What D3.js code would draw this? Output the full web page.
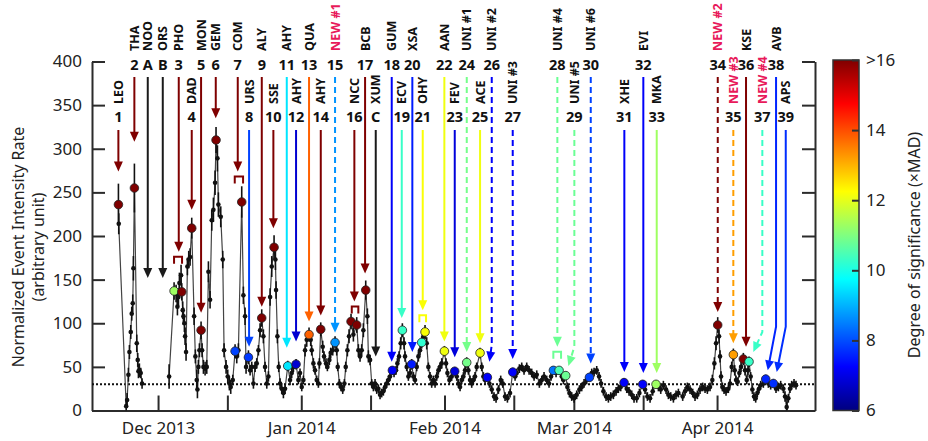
<!DOCTYPE html>
<html>
<head>
<meta charset="utf-8">
<script src="https://cdn.jsdelivr.net/npm/d3@7"></script>
<style>
body { margin: 0; background: #fff; }
svg { display: block; font-family: "Noto Sans", "Open Sans", sans-serif; }
</style>
</head>
<body>
<svg id="chart" width="928" height="441"></svg>
<script>
// time is counted in days from 1 Dec 2013 (UTC)
var dayStart = -14.3, dayEnd = 142.2;

var monthTicks = ["2013-12-01", "2014-01-01", "2014-02-01", "2014-03-01", "2014-04-01"];
var monthLabels = ["Dec 2013", "Jan 2014", "Feb 2014", "Mar 2014", "Apr 2014"];
var midTicks = ["2013-12-16", "2014-01-16", "2014-02-16", "2014-03-16", "2014-04-16"];
var rateTicks = [0, 50, 100, 150, 200, 250, 300, 350, 400];
var sigTicks = [6, 8, 10, 12, 14, 16];
var sigLabels = ["6", "8", "10", "12", "14", ">16"];
var baselineRate = 30;

// [day, rate, error] ; null rate = data gap
var series = [
  [-8.58,236,24],[-8.51,214,12],[-6.9,5,6],[-6.7,12,8],[-6.42,41,8],[-6.20,67,8],[-5.91,90,8],
  [-5.70,111,8],[-5.48,123,10],[-5.34,163,14],[-5.12,255,28],[-4.61,77,10],[-4.40,58,8],
  [-4.25,45,8],[-4.04,46,8],[-3.75,43,6],[-3.46,31,6],[-1.0,null,0],
  [2.39,39,14],[3.47,137,10],[3.90,134,10],[4.19,119,10],[4.41,130,10],[4.62,146,12],
  [4.98,155,12],[5.13,136,10],[5.34,115,10],[5.49,108,10],[5.70,100,10],[5.85,85,10],
  [6.06,67,10],[6.35,165,10],[6.64,173,10],[6.93,176,10],[7.29,209,12],[7.80,108,10],
  [8.08,62,8],[8.37,35,12],[8.52,24,10],[8.73,50,8],[8.95,69,8],[9.31,92,10],[9.53,69,8],
  [9.82,50,8],[10.18,48,8],[10.54,50,8],[10.90,159,12],[11.26,127,10],[11.62,218,12],
  [11.98,230,14],[12.34,261,14],[12.55,310,15],[12.85,289,15],[13.06,236,14],[13.57,222,12],
  [14.00,173,10],[14.29,69,8],[14.72,50,8],[15.08,39,8],[15.44,31,8],[15.73,27,8],
  [16.17,35,6],[16.67,68,8],[17.03,62,8],[17.39,69,8],[18.11,239,18],[18.47,132,10],
  [18.83,108,10],[19.05,50,8],[19.56,61,8],[19.92,46,6],[20.28,50,6],[20.64,31,6],
  [21.00,50,6],[21.36,54,6],[21.72,69,6],[22.08,92,8],[22.44,106,10],[22.80,85,8],
  [23.16,50,6],[23.53,31,6],[23.89,39,6],[24.25,130,10],[24.61,165,12],[25.11,187,14],
  [25.40,173,12],[25.54,138,10],[25.83,85,8],[26.12,50,6],[26.41,31,6],[26.77,25,6],
  [27.13,20,6],[27.49,25,6],[28.07,51,6],[28.57,35,6],[28.93,43,6],[29.30,50,6],[29.87,53,6],
  [30.37,35,5],[30.73,43,5],[31.10,27,5],[31.46,35,5],[31.82,69,7],[32.18,81,8],[32.68,87,8],
  [33.04,81,7],[33.26,69,6],[33.62,54,6],[33.98,46,5],[34.34,35,5],[34.70,31,5],[34.92,54,6],
  [35.21,93,8],[35.64,73,7],[35.93,62,6],[36.36,54,6],[36.65,50,5],[37.08,58,6],[37.37,66,6],
  [37.81,69,6],[38.31,78,7],[38.67,69,6],[38.89,50,5],[39.25,31,5],[39.61,27,5],[39.97,24,5],
  [40.33,31,5],[40.62,50,6],[40.98,69,7],[41.34,85,8],[41.77,102,9],[42.28,87,8],[43.00,98,9],
  [43.36,69,7],[43.72,62,6],[44.08,69,7],[44.44,92,8],[44.95,138,11],[45.31,108,9],[45.53,62,7],
  [45.89,58,6],[46.25,31,5],[46.61,27,5],[46.97,31,5],[47.33,24,5],[47.69,25,5],[48.05,18,5],
  [48.41,20,5],[48.77,22,5],[49.13,27,5],[49.49,31,5],[49.85,35,5],[50.21,39,5],[50.72,46,5],
  [51.08,43,5],[51.51,46,5],[51.80,54,6],[52.16,62,6],[52.52,77,7],[52.88,92,8],[53.25,77,7],
  [53.46,62,6],[53.82,50,5],[54.18,39,5],[54.54,43,5],[54.90,53,6],[55.27,39,5],[55.63,35,5],
  [55.99,50,5],[56.35,62,6],[56.71,69,6],[57.07,78,7],[57.43,85,7],[57.79,90,8],[58.15,77,7],
  [58.51,50,5],[58.87,39,5],[59.23,31,5],[59.59,35,5],[59.96,31,5],[60.32,39,5],[60.68,46,5],
  [61.04,50,5],[61.40,54,6],[61.98,68,6],[62.34,54,6],[62.63,43,5],[63.06,35,5],[63.56,39,5],
  [64.21,45,5],[64.65,39,5],[65.01,31,5],[65.37,27,5],[65.73,35,5],[66.09,39,5],[66.45,46,5],
  [66.81,55,6],[67.17,46,5],[67.53,35,5],[67.89,31,5],[68.25,35,5],[68.61,39,5],[68.97,50,5],
  [69.70,66,6],[70.06,50,5],[70.42,39,5],[70.78,35,5],[71.28,38,5],
  [71.72,31,5],[72.23,24,5],[72.73,16,5],[73.16,14,5],[73.67,24,5],[74.17,35,5],[74.61,31,5],
  [75.11,16,5],[75.62,14,5],[76.19,20,5],[76.77,44,5],[77.28,39,5],[77.64,43,5],[78.21,48,5],
  [78.72,50,5],[79.22,46,5],[79.80,50,5],[80.31,46,5],[80.88,43,5],[81.39,39,5],[81.97,41,5],
  [82.54,31,5],[83.05,35,5],[83.55,39,5],[84.13,35,5],[84.63,31,5],[85.07,39,5],[85.57,46,5],
  [86.15,43,5],[86.80,46,5],[87.38,39,5],[87.74,35,5],[88.24,40,5],[88.60,27,5],[89.04,20,5],
  [89.54,16,5],[90.05,14,5],[90.62,18,5],[91.20,24,5],[91.71,27,5],[92.21,31,5],[92.79,35,5],
  [93.37,38,5],[93.87,43,5],[94.38,44,5],[94.95,46,5],[95.46,39,5],[95.89,31,5],[96.40,22,5],
  [96.97,16,5],[97.48,14,5],[97.98,16,5],[98.56,18,5],[99.14,22,5],[99.64,25,5],[100.15,27,5],
  [100.87,32,5],[101.45,25,5],[101.95,22,5],[102.53,18,5],[103.03,14,5],[103.61,14,5],
  [104.19,20,5],[104.91,30,5],[105.41,24,5],[105.92,16,5],[106.50,14,5],[107.07,22,5],
  [107.79,30,5],[108.30,27,5],[108.81,24,5],[109.38,29,5],[109.96,24,5],[110.46,18,5],
  [110.97,16,5],[111.55,14,5],[112.12,18,5],[112.63,20,5],
  [113.56,16,5],[114.07,22,5],[114.57,27,5],[115.15,24,5],[115.73,20,5],[116.23,16,5],
  [116.74,18,5],[117.31,24,5],[117.89,27,5],[118.40,25,5],[118.90,24,5],[119.48,27,5],
  [119.98,35,6],[120.42,54,7],[120.78,77,8],[121.14,98,9],[121.43,85,8],[121.64,62,7],
  [121.86,39,6],[122.15,27,5],[122.51,24,5],[122.94,22,5],[123.45,25,5],[123.81,31,5],
  [124.17,50,6],[124.53,64,7],[124.82,46,6],[125.11,35,5],[125.47,33,5],[125.83,43,5],
  [126.19,50,6],[126.69,59,7],[127.05,46,6],[127.42,35,5],[127.70,46,6],[127.92,56,6],
  [128.28,39,5],[128.64,24,5],[129.00,16,5],[129.36,14,5],[129.72,20,5],[130.08,25,5],
  [130.44,29,5],[131.02,31,5],[131.53,36,5],[132.10,31,5],[132.61,29,5],[133.19,31,5],
  [133.76,25,5],[134.27,27,5],[134.77,29,5],[135.35,25,5],[135.71,16,6],[136.07,4,6],
  [136.43,14,5],[136.79,25,5],[137.15,29,5],[137.66,31,5],[138.09,29,5]
];

// detected peaks: [day, rate, significance (x MAD)]
var peaks = [
  [-8.58,236,16],[-5.12,255,16],[3.47,137,11.3],[5.13,136,16],[7.29,209,16],[9.31,92,16],
  [12.55,310,16],[16.67,68,7.9],[18.11,239,16],[19.56,61,7.8],[22.44,106,16],[25.11,187,16],
  [28.07,51,9.5],[29.87,53,6.8],[32.68,87,13.8],[35.21,93,16],[38.31,78,8.7],[41.77,102,16],
  [43.00,98,16],[44.95,138,16],[50.72,46,7.2],[52.88,92,10.3],[54.90,53,7.5],[57.07,78,10.2],
  [57.79,90,12.2],[61.98,68,12.1],[64.21,45,6.9],[66.81,55,10.9],[69.70,66,12.1],[71.28,38,7.2],
  [76.77,44,7.2],[85.57,46,8.4],[86.80,46,10.5],[88.24,40,10.8],[93.37,38,7.9],[100.87,32,7.2],
  [104.91,30,7.2],[107.79,30,11.3],[121.14,98,16],[124.53,64,13.2],[126.69,59,16],
  [127.92,56,10.3],[131.53,36,7.6],[133.19,31,7.7]
];

// meteor shower annotations (tier = label row, tip = rate the arrow points at)
var showers = [
  {num:"1", name:"LEO", tier:2, day:-8.59, tip:274, sig:16},
  {num:"2", name:"THA", tier:1, day:-5.13, tip:308, sig:16},
  {num:"A", name:"NOO", tier:1, day:-2.23, tip:152, sig:null},
  {num:"B", name:"ORS", tier:1, day:1.02, tip:152, sig:null},
  {num:"3", name:"PHO", tier:1, day:4.48, tip:182, sig:16, span:[3.46,5.19]},
  {num:"4", name:"DAD", tier:2, day:7.29, tip:230, sig:16},
  {num:"5", name:"MON", tier:1, day:9.31, tip:112, sig:16},
  {num:"6", name:"GEM", tier:1, day:12.49, tip:335, sig:16},
  {num:"7", name:"COM", tier:1, day:17.25, tip:274, sig:16, span:[16.6,18.4]},
  {num:"8", name:"URS", tier:2, day:19.70, tip:73, sig:7.9},
  {num:"9", name:"ALY", tier:1, day:22.45, tip:119, sig:16},
  {num:"10", name:"SSE", tier:2, day:24.96, tip:209, sig:16},
  {num:"11", name:"AHY", tier:1, day:27.86, tip:72, sig:9.5},
  {num:"12", name:"AHY", tier:2, day:29.87, tip:79, sig:6.8},
  {num:"13", name:"QUA", tier:1, day:32.68, tip:102, sig:13.8},
  {num:"14", name:"AHY", tier:2, day:35.22, tip:109, sig:16},
  {num:"15", name:"NEW #1", tier:1, day:38.31, tip:89, sig:8.7},
  {num:"16", name:"NCC", tier:2, day:42.49, tip:125, sig:16, span:[41.93,43.35]},
  {num:"17", name:"BCB", tier:1, day:44.81, tip:157, sig:16},
  {num:"C", name:"XUM", tier:2, day:47.12, tip:62, sig:null},
  {num:"18", name:"GUM", tier:1, day:50.58, tip:56, sig:7.2},
  {num:"19", name:"ECV", tier:2, day:52.75, tip:106, sig:10.3},
  {num:"20", name:"XSA", tier:1, day:55.04, tip:67, sig:7.5},
  {num:"21", name:"OHY", tier:2, day:57.29, tip:115, sig:12.2, span:[56.56,58.01]},
  {num:"22", name:"AAN", tier:1, day:61.97, tip:79, sig:12.1},
  {num:"23", name:"FEV", tier:2, day:64.22, tip:61, sig:6.9},
  {num:"24", name:"UNI #1", tier:1, day:66.82, tip:67, sig:10.9},
  {num:"25", name:"ACE", tier:2, day:69.70, tip:77, sig:12.1},
  {num:"26", name:"UNI #2", tier:1, day:72.23, tipDay:71.71, bend:75, tip:56, sig:7.2},
  {num:"27", name:"UNI #3", tier:2, day:76.77, tip:59, sig:7.2},
  {num:"28", name:"UNI #4", tier:1, day:86.43, tip:73, sig:10.8, span:[85.56,87.23]},
  {num:"29", name:"UNI #5", tier:2, day:90.11, tipDay:88.81, bend:73, tip:51, sig:10.8},
  {num:"30", name:"UNI #6", tier:1, day:93.66, tip:54, sig:7.9},
  {num:"31", name:"XHE", tier:2, day:100.93, tip:44, sig:7.2},
  {num:"32", name:"EVI", tier:1, day:105.04, tip:43, sig:7.2},
  {num:"33", name:"MKA", tier:2, day:107.94, tip:43, sig:11.3},
  {num:"34", name:"NEW #2", tier:1, day:121.15, tip:113, sig:16},
  {num:"35", name:"NEW #3", tier:2, day:124.52, tip:77, sig:13.2},
  {num:"36", name:"KSE", tier:1, day:127.27, tip:73, sig:16},
  {num:"37", name:"NEW #4", tier:2, day:130.80, tipDay:128.85, bend:90, tip:67, sig:10.3},
  {num:"38", name:"AVB", tier:1, day:133.77, tipDay:131.97, bend:96, tip:46, sig:7.6},
  {num:"39", name:"APS", tier:2, day:135.87, tipDay:133.92, bend:96, tip:44, sig:7.7}
];

var svg = d3.select("#chart");
var axisColor = "#2b2b2b";
var dec1 = Date.UTC(2013, 11, 1);
function toDate(day) { return new Date(dec1 + day * 864e5); }
function iso(s) { return new Date(s + "T00:00:00Z"); }

var x = d3.scaleUtc().domain([toDate(dayStart), toDate(dayEnd)]).range([92, 815]);
var y = d3.scaleLinear().domain([0, 400]).range([410.5, 61.5]);
// matlab-like jet colormap, 6..16 x MAD
var jet = d3.scaleLinear()
  .domain([6, 7.25, 9.75, 12.25, 14.75, 16])
  .range(["#00007f", "#0000ff", "#00ffff", "#ffff00", "#ff0000", "#7f0000"])
  .clamp(true);
function showerColor(s) { return s.sig == null ? "#1a1a1a" : jet(s.sig); }

// axes
var tickDates = monthTicks.concat(midTicks).map(iso);
var gx = svg.append("g").attr("transform", "translate(0,410.5)")
  .call(d3.axisBottom(x).tickValues(tickDates).tickSize(-15).tickSizeOuter(0).tickPadding(11)
    .tickFormat(function(d) {
      var i = monthTicks.map(function(s) { return +iso(s); }).indexOf(+d);
      return i < 0 ? "" : monthLabels[i];
    }));
var gy = svg.append("g").attr("transform", "translate(92,0)")
  .call(d3.axisLeft(y).tickValues(rateTicks).tickSize(-13).tickSizeOuter(0).tickPadding(10));
var gyr = svg.append("g").attr("transform", "translate(815,0)")
  .call(d3.axisRight(y).tickValues(rateTicks).tickSize(-13).tickSizeOuter(0).tickFormat(""));
[gx, gy, gyr].forEach(function(g) {
  g.selectAll("path, line").attr("stroke", axisColor).attr("stroke-width", 2);
  g.selectAll("text").attr("fill", "#222").style("font-size", "17px")
    .style("font-family", "'Noto Sans', sans-serif");
});

// axis title
var yt = svg.append("g").attr("transform", "translate(18,247) rotate(-90)")
  .attr("text-anchor", "middle").attr("fill", "#222").style("font-size", "16px");
yt.append("text").attr("dy", "0.35em").text("Normalized Event Intensity Rate");
yt.append("text").attr("y", 20).attr("dy", "0.35em").text("(arbitrary unit)");

// baseline
svg.append("line")
  .attr("x1", x.range()[0]).attr("x2", x.range()[1])
  .attr("y1", y(baselineRate)).attr("y2", y(baselineRate))
  .attr("stroke", "#111").attr("stroke-width", 2).attr("stroke-dasharray", "2,2");

// series
var px = function(d) { return x(toDate(d[0])); };
var line = d3.line().defined(function(d) { return d[1] != null; })
  .x(px).y(function(d) { return y(d[1]); });
svg.append("path").datum(series)
  .attr("d", line).attr("fill", "none").attr("stroke", "#444").attr("stroke-width", 1.2);

var pts = series.filter(function(d) { return d[1] != null; });
svg.append("g").selectAll("line").data(pts).enter().append("line")
  .attr("x1", px).attr("x2", px)
  .attr("y1", function(d) { return y(Math.max(0, d[1] - d[2])); })
  .attr("y2", function(d) { return y(d[1] + d[2]); })
  .attr("stroke", "#111").attr("stroke-width", 1.6);
svg.append("g").selectAll("circle").data(pts).enter().append("circle")
  .attr("cx", px).attr("cy", function(d) { return y(d[1]); })
  .attr("r", 2.3).attr("fill", "#111");

// arrows, brackets and labels
var ga = svg.append("g");
showers.forEach(function(s) {
  var col = showerColor(s);
  var dashed = /^(NEW|UNI)/.test(s.name);
  var x0 = x(toDate(s.day));
  var y0 = s.tier === 1 ? 77 : 130;
  var xt = x(toDate(s.tipDay != null ? s.tipDay : s.day));
  var ytp = y(s.tip);
  var path = [[x0, y0]];
  if (s.bend != null) path.push([x0, y(s.bend)]);
  path.push([xt, ytp]);
  var a = path[path.length - 2], b = path[path.length - 1];
  var ang = Math.atan2(b[1] - a[1], b[0] - a[0]);
  var hl = 10, hw = 4.5;
  var base = [b[0] - hl * Math.cos(ang), b[1] - hl * Math.sin(ang)];
  var shaft = path.slice(0, -1).concat([[b[0] - (hl - 1) * Math.cos(ang), b[1] - (hl - 1) * Math.sin(ang)]]);
  ga.append("path").attr("d", d3.line()(shaft)).attr("fill", "none")
    .attr("stroke", col).attr("stroke-width", 2)
    .attr("stroke-dasharray", dashed ? "6,4" : null);
  var nx = -Math.sin(ang), ny = Math.cos(ang);
  ga.append("path")
    .attr("d", "M" + b[0] + "," + b[1] +
      "L" + (base[0] + hw * nx) + "," + (base[1] + hw * ny) +
      "L" + (base[0] - hw * nx) + "," + (base[1] - hw * ny) + "Z")
    .attr("fill", col);
  if (s.span) {
    var bt = ytp + 5;
    ga.append("path")
      .attr("d", "M" + x(toDate(s.span[0])) + "," + (bt + 7) + "V" + bt +
        "H" + x(toDate(s.span[1])) + "V" + (bt + 7))
      .attr("fill", "none").attr("stroke", col).attr("stroke-width", 2);
  }
  var nameY = s.tier === 1 ? 51 : 104;
  var numY = s.tier === 1 ? 70 : 122;
  ga.append("text")
    .attr("transform", "translate(" + x0 + "," + nameY + ") rotate(-90)")
    .attr("dy", "0.36em").attr("font-weight", "bold").style("font-size", "12.5px")
    .attr("fill", /^NEW/.test(s.name) ? "#e8195a" : "#111")
    .text(s.name);
  ga.append("text").attr("x", x0).attr("y", numY).attr("text-anchor", "middle")
    .attr("font-weight", "bold").style("font-size", "14.5px").attr("fill", "#111")
    .text(s.num);
});

// peak markers
svg.append("g").selectAll("circle").data(peaks).enter().append("circle")
  .attr("cx", px).attr("cy", function(d) { return y(d[1]); })
  .attr("r", 4.3).attr("fill", function(d) { return jet(d[2]); })
  .attr("stroke", "#222").attr("stroke-width", 0.8);

// colour bar
var cy = d3.scaleLinear().domain([6, 16]).range([410.5, 60]);
var grad = svg.append("defs").append("linearGradient").attr("id", "jet")
  .attr("x1", 0).attr("y1", 1).attr("x2", 0).attr("y2", 0);
d3.range(6, 16.01, 0.25).forEach(function(v) {
  grad.append("stop").attr("offset", (v - 6) / 10).attr("stop-color", jet(v));
});
svg.append("rect").attr("x", 833).attr("y", cy(16)).attr("width", 26)
  .attr("height", cy(6) - cy(16)).attr("fill", "url(#jet)")
  .attr("stroke", "#333").attr("stroke-width", 1.5);
var gc = svg.append("g").attr("transform", "translate(859,0)")
  .call(d3.axisRight(cy).tickValues(sigTicks).tickSize(-7).tickSizeOuter(0).tickPadding(7)
    .tickFormat(function(d, i) { return sigLabels[i]; }));
gc.select(".domain").remove();
gc.selectAll("line").attr("stroke", "#333").attr("stroke-width", 2);
gc.selectAll("text").attr("fill", "#222").style("font-size", "17px")
  .style("font-family", "'Noto Sans', sans-serif");
svg.append("text").attr("transform", "translate(914,245) rotate(-90)")
  .attr("text-anchor", "middle").attr("dy", "0.35em").attr("fill", "#222")
  .style("font-size", "16px").text("Degree of significance (\u00d7MAD)");
</script>
</body>
</html>
